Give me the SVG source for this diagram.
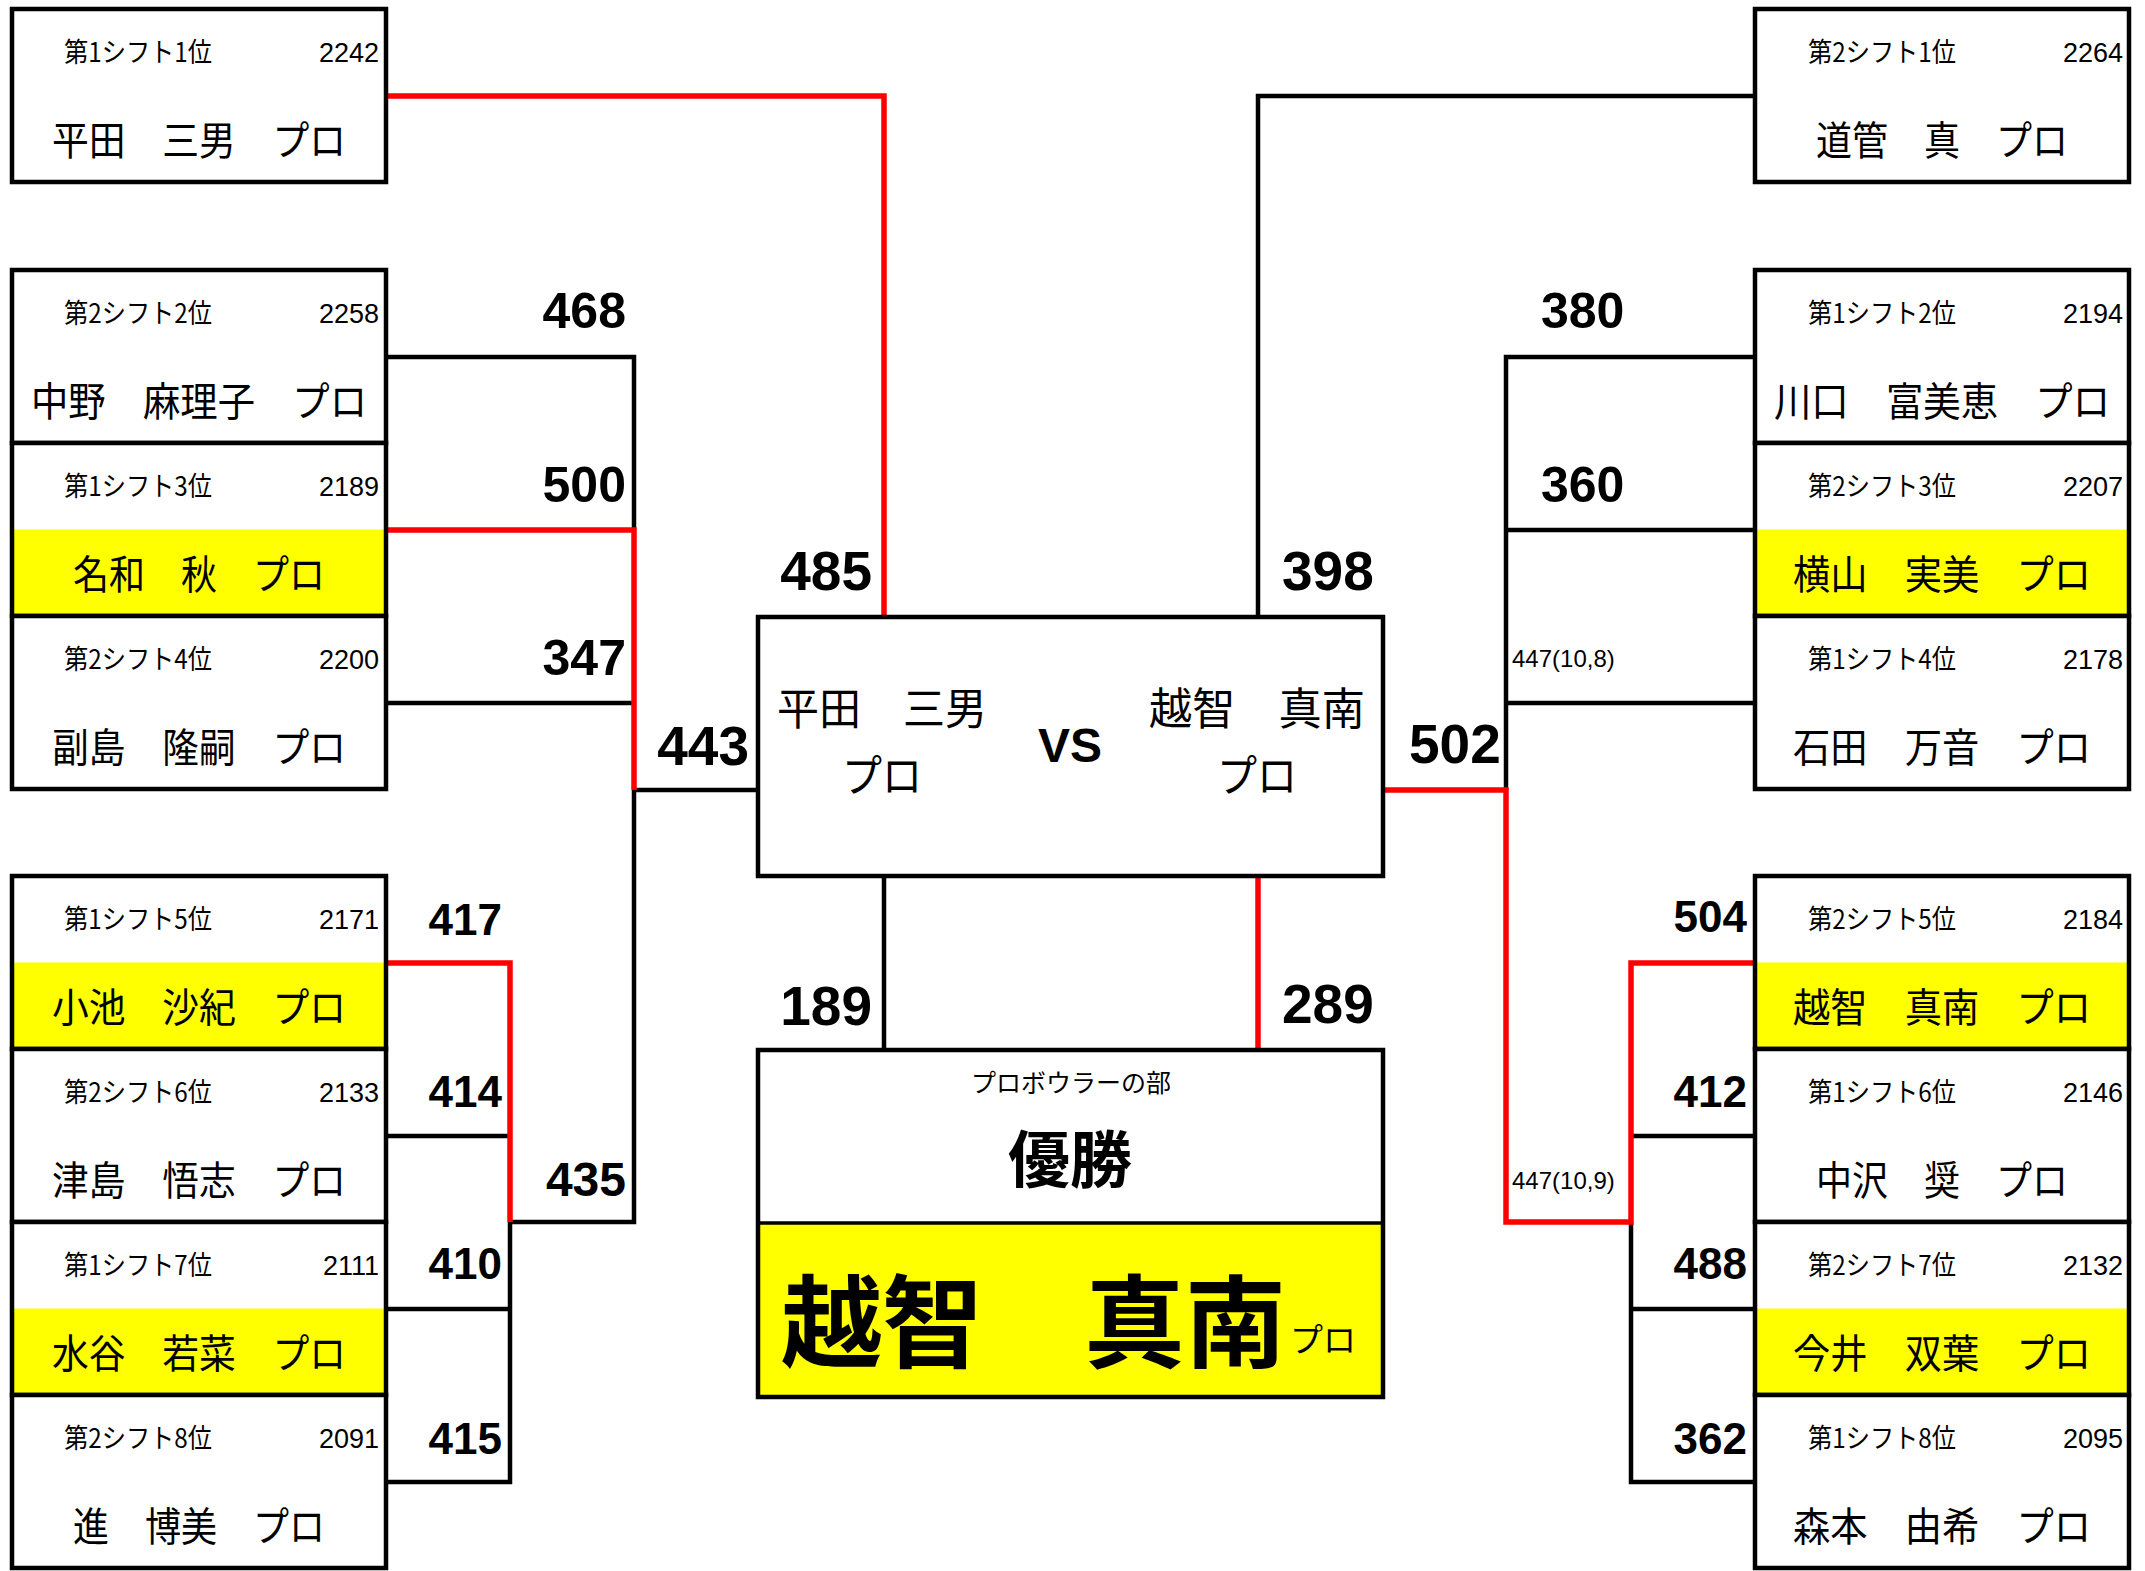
<svg xmlns="http://www.w3.org/2000/svg" width="2145" height="1571" viewBox="0 0 2145 1571">
<style>
.bg{fill:#fff}
.hl{fill:#ffff00}
.bd{fill:none;stroke:#000;stroke-width:4.5}
.rank{font-family:"Noto Sans CJK JP",sans-serif;font-size:27px;fill:#000}
.pts{font-family:"Liberation Sans",sans-serif;font-size:27px;text-anchor:end;fill:#000}
.name{font-family:"Noto Sans CJK JP",sans-serif;font-size:40px;text-anchor:middle;fill:#000}
.sc{font-family:"Liberation Sans",sans-serif;font-weight:bold;fill:#000}
.e{text-anchor:end}
.s{text-anchor:start}
.f55{font-size:55px}.f50{font-size:50px}.f48{font-size:48px}.f44{font-size:44px}
.sm{font-family:"Liberation Sans",sans-serif;font-size:24px;fill:#000}
.wl{fill:none;stroke:#000;stroke-width:4.5}
.rl{fill:none;stroke:#ff0000;stroke-width:5.5}
.jp{font-family:"Noto Sans CJK JP",sans-serif;fill:#000}
</style>
<defs>
<rect id="cell" x="0" y="0" width="374" height="173"/>
<rect id="lower" x="0" y="86.5" width="374" height="86.5"/>
</defs>

<g id="connectors">
<path class="wl" d="M386,357 H634 V530"/>
<path class="wl" d="M386,703 H634"/>
<path class="wl" d="M634,790 V1222 H510"/>
<path class="wl" d="M634,790 H758"/>
<path class="wl" d="M386,1136 H510"/>
<path class="wl" d="M386,1309 H510"/>
<path class="wl" d="M386,1482 H510 V1222"/>
<path class="wl" d="M884,876 V1050"/>
<path class="wl" d="M1755,96 H1258 V617"/>
<path class="wl" d="M1755,357 H1506 V790"/>
<path class="wl" d="M1755,530 H1506"/>
<path class="wl" d="M1755,703 H1506"/>
<path class="wl" d="M1755,1136 H1631"/>
<path class="wl" d="M1755,1309 H1631"/>
<path class="wl" d="M1755,1482 H1631 V1222"/>
<path class="rl" d="M386,96 H884 V617"/>
<path class="rl" d="M386,530 H634 V790"/>
<path class="rl" d="M386,963 H510 V1222"/>
<path class="rl" d="M1383,790 H1506 V1222 H1631 V963 H1755"/>
<path class="rl" d="M1258,876 V1050"/>
</g>

<g id="scores">
<text class="sc e f50" x="626" y="328">468</text>
<text class="sc e f50" x="626" y="502">500</text>
<text class="sc e f50" x="626" y="675">347</text>
<text class="sc e f55" x="872" y="590">485</text>
<text class="sc e f55" x="749" y="765">443</text>
<text class="sc e f44" x="502" y="935">417</text>
<text class="sc e f44" x="502" y="1107">414</text>
<text class="sc e f44" x="502" y="1279">410</text>
<text class="sc e f44" x="502" y="1454">415</text>
<text class="sc e f48" x="626" y="1196">435</text>
<text class="sc e f55" x="872" y="1025">189</text>
<text class="sc s f55" x="1282" y="590">398</text>
<text class="sc s f50" x="1541" y="328">380</text>
<text class="sc s f50" x="1541" y="502">360</text>
<text class="sm" x="1512" y="667">447(10,8)</text>
<text class="sc s f55" x="1409" y="763">502</text>
<text class="sc e f44" x="1747" y="932">504</text>
<text class="sc e f44" x="1747" y="1107">412</text>
<text class="sc e f44" x="1747" y="1279">488</text>
<text class="sc e f44" x="1747" y="1454">362</text>
<text class="sm" x="1512" y="1189">447(10,9)</text>
<text class="sc s f55" x="1282" y="1023">289</text>
</g>

<g id="L1" transform="translate(12,9)"><use href="#cell" class="bg"/><use href="#cell" class="bd"/><text class="rank" x="52" y="53" textLength="148" lengthAdjust="spacingAndGlyphs">第1シフト1位</text><text class="pts" x="367" y="53">2242</text><text class="name" x="187" y="146" textLength="294" lengthAdjust="spacingAndGlyphs">平田　三男　プロ</text></g>
<g id="L2" transform="translate(12,270)"><use href="#cell" class="bg"/><use href="#cell" class="bd"/><text class="rank" x="52" y="53" textLength="148" lengthAdjust="spacingAndGlyphs">第2シフト2位</text><text class="pts" x="367" y="53">2258</text><text class="name" x="187" y="146" textLength="336" lengthAdjust="spacingAndGlyphs">中野　麻理子　プロ</text></g>
<g id="L3" transform="translate(12,443)"><use href="#cell" class="bg"/><use href="#lower" class="hl"/><use href="#cell" class="bd"/><text class="rank" x="52" y="53" textLength="148" lengthAdjust="spacingAndGlyphs">第1シフト3位</text><text class="pts" x="367" y="53">2189</text><text class="name" x="187" y="146" textLength="252" lengthAdjust="spacingAndGlyphs">名和　秋　プロ</text></g>
<g id="L4" transform="translate(12,616)"><use href="#cell" class="bg"/><use href="#cell" class="bd"/><text class="rank" x="52" y="53" textLength="148" lengthAdjust="spacingAndGlyphs">第2シフト4位</text><text class="pts" x="367" y="53">2200</text><text class="name" x="187" y="146" textLength="294" lengthAdjust="spacingAndGlyphs">副島　隆嗣　プロ</text></g>
<g id="L5" transform="translate(12,876)"><use href="#cell" class="bg"/><use href="#lower" class="hl"/><use href="#cell" class="bd"/><text class="rank" x="52" y="53" textLength="148" lengthAdjust="spacingAndGlyphs">第1シフト5位</text><text class="pts" x="367" y="53">2171</text><text class="name" x="187" y="146" textLength="294" lengthAdjust="spacingAndGlyphs">小池　沙紀　プロ</text></g>
<g id="L6" transform="translate(12,1049)"><use href="#cell" class="bg"/><use href="#cell" class="bd"/><text class="rank" x="52" y="53" textLength="148" lengthAdjust="spacingAndGlyphs">第2シフト6位</text><text class="pts" x="367" y="53">2133</text><text class="name" x="187" y="146" textLength="294" lengthAdjust="spacingAndGlyphs">津島　悟志　プロ</text></g>
<g id="L7" transform="translate(12,1222)"><use href="#cell" class="bg"/><use href="#lower" class="hl"/><use href="#cell" class="bd"/><text class="rank" x="52" y="53" textLength="148" lengthAdjust="spacingAndGlyphs">第1シフト7位</text><text class="pts" x="367" y="53">2111</text><text class="name" x="187" y="146" textLength="294" lengthAdjust="spacingAndGlyphs">水谷　若菜　プロ</text></g>
<g id="L8" transform="translate(12,1395)"><use href="#cell" class="bg"/><use href="#cell" class="bd"/><text class="rank" x="52" y="53" textLength="148" lengthAdjust="spacingAndGlyphs">第2シフト8位</text><text class="pts" x="367" y="53">2091</text><text class="name" x="187" y="146" textLength="252" lengthAdjust="spacingAndGlyphs">進　博美　プロ</text></g>

<g id="R1" transform="translate(1755,9)"><use href="#cell" class="bg"/><use href="#cell" class="bd"/><text class="rank" x="53" y="53" textLength="148" lengthAdjust="spacingAndGlyphs">第2シフト1位</text><text class="pts" x="368" y="53">2264</text><text class="name" x="187" y="146" textLength="252" lengthAdjust="spacingAndGlyphs">道管　真　プロ</text></g>
<g id="R2" transform="translate(1755,270)"><use href="#cell" class="bg"/><use href="#cell" class="bd"/><text class="rank" x="53" y="53" textLength="148" lengthAdjust="spacingAndGlyphs">第1シフト2位</text><text class="pts" x="368" y="53">2194</text><text class="name" x="187" y="146" textLength="336" lengthAdjust="spacingAndGlyphs">川口　富美恵　プロ</text></g>
<g id="R3" transform="translate(1755,443)"><use href="#cell" class="bg"/><use href="#lower" class="hl"/><use href="#cell" class="bd"/><text class="rank" x="53" y="53" textLength="148" lengthAdjust="spacingAndGlyphs">第2シフト3位</text><text class="pts" x="368" y="53">2207</text><text class="name" x="187" y="146" textLength="298" lengthAdjust="spacingAndGlyphs">横山　実美　プロ</text></g>
<g id="R4" transform="translate(1755,616)"><use href="#cell" class="bg"/><use href="#cell" class="bd"/><text class="rank" x="53" y="53" textLength="148" lengthAdjust="spacingAndGlyphs">第1シフト4位</text><text class="pts" x="368" y="53">2178</text><text class="name" x="187" y="146" textLength="298" lengthAdjust="spacingAndGlyphs">石田　万音　プロ</text></g>
<g id="R5" transform="translate(1755,876)"><use href="#cell" class="bg"/><use href="#lower" class="hl"/><use href="#cell" class="bd"/><text class="rank" x="53" y="53" textLength="148" lengthAdjust="spacingAndGlyphs">第2シフト5位</text><text class="pts" x="368" y="53">2184</text><text class="name" x="187" y="146" textLength="298" lengthAdjust="spacingAndGlyphs">越智　真南　プロ</text></g>
<g id="R6" transform="translate(1755,1049)"><use href="#cell" class="bg"/><use href="#cell" class="bd"/><text class="rank" x="53" y="53" textLength="148" lengthAdjust="spacingAndGlyphs">第1シフト6位</text><text class="pts" x="368" y="53">2146</text><text class="name" x="187" y="146" textLength="252" lengthAdjust="spacingAndGlyphs">中沢　奨　プロ</text></g>
<g id="R7" transform="translate(1755,1222)"><use href="#cell" class="bg"/><use href="#lower" class="hl"/><use href="#cell" class="bd"/><text class="rank" x="53" y="53" textLength="148" lengthAdjust="spacingAndGlyphs">第2シフト7位</text><text class="pts" x="368" y="53">2132</text><text class="name" x="187" y="146" textLength="298" lengthAdjust="spacingAndGlyphs">今井　双葉　プロ</text></g>
<g id="R8" transform="translate(1755,1395)"><use href="#cell" class="bg"/><use href="#cell" class="bd"/><text class="rank" x="53" y="53" textLength="148" lengthAdjust="spacingAndGlyphs">第1シフト8位</text><text class="pts" x="368" y="53">2095</text><text class="name" x="187" y="146" textLength="298" lengthAdjust="spacingAndGlyphs">森本　由希　プロ</text></g>

<g id="final">
<rect class="bg" x="758" y="617" width="625" height="259"/>
<rect class="bd" x="758" y="617" width="625" height="259"/>
<text class="jp" x="882" y="725" font-size="44" text-anchor="middle" textLength="210" lengthAdjust="spacingAndGlyphs">平田　三男</text>
<text class="jp" x="882" y="792" font-size="44" text-anchor="middle" textLength="80" lengthAdjust="spacingAndGlyphs">プロ</text>
<text class="sc" x="1070" y="762" font-size="48" text-anchor="middle">VS</text>
<text class="jp" x="1257" y="725" font-size="44" text-anchor="middle" textLength="216" lengthAdjust="spacingAndGlyphs">越智　真南</text>
<text class="jp" x="1257" y="792" font-size="44" text-anchor="middle" textLength="80" lengthAdjust="spacingAndGlyphs">プロ</text>
</g>

<g id="champion">
<rect class="bg" x="758" y="1050" width="625" height="347"/>
<rect class="hl" x="758" y="1223" width="625" height="174"/>
<line x1="758" y1="1223" x2="1383" y2="1223" stroke="#000" stroke-width="3.5"/>
<rect class="bd" x="758" y="1050" width="625" height="347"/>
<text class="jp" x="1071" y="1092" font-size="25" text-anchor="middle">プロボウラーの部</text>
<text class="jp" x="1070" y="1183" font-size="62" font-weight="bold" text-anchor="middle">優勝</text>
<text class="jp" x="781" y="1360" font-size="101" font-weight="bold">越智　真南</text>
<text class="jp" x="1290" y="1352" font-size="33">プロ</text>
</g>
</svg>
